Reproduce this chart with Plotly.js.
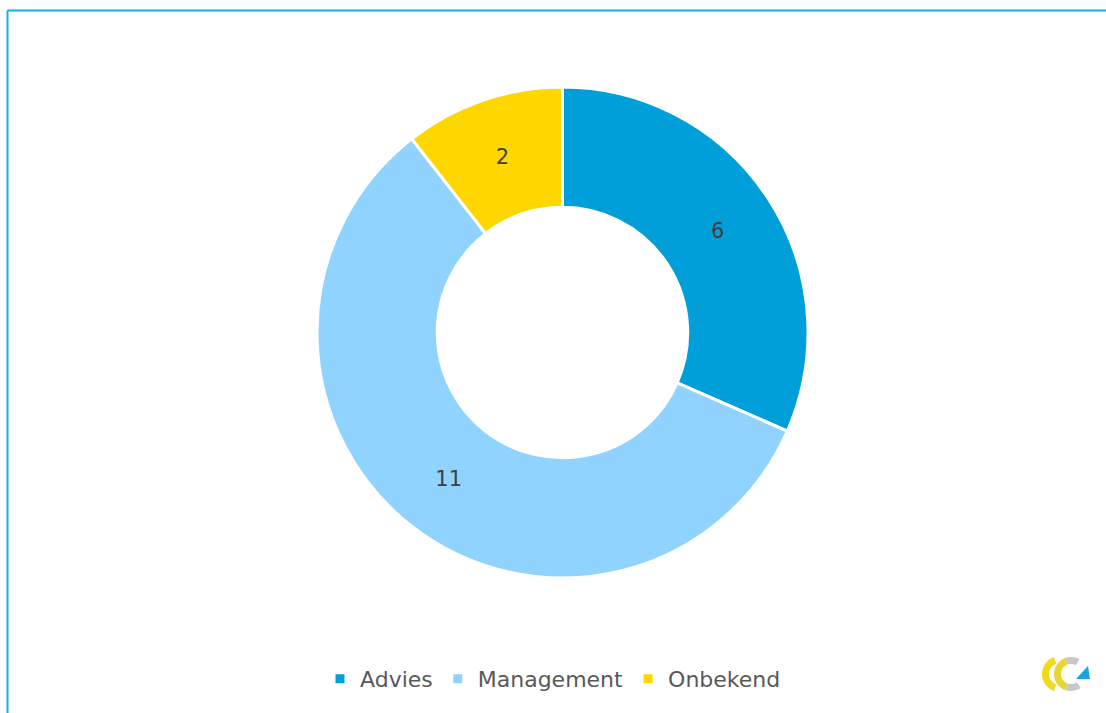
<!DOCTYPE html>
<html>
<head>
<meta charset="utf-8">
<script src="https://cdn.plot.ly/plotly-3.0.1.min.js"></script>
<style>html,body{margin:0;padding:0;background:#fff;}#chart{width:1106px;height:713px;}</style>
</head>
<body>
<div id="chart"></div>
<script>
const categories = ["Advies", "Management", "Onbekend"];
const values = [6, 11, 2];
const colors = ["#009FDA", "#8FD3FE", "#FFD700"];

const W = 1106, H = 713;
const px = x => x / W;
const py = y => 1 - y / H;
function path(pts) {
  return pts.map((p, i) => (i ? 'L' : 'M') + px(p[0]).toFixed(5) + ',' + py(p[1]).toFixed(5)).join(' ') + ' Z';
}
function arcBand(cx, cy, r1, r2, a0, a1, n) {
  const pts = [];
  for (let i = 0; i <= n; i++) { const a = (a0 + (a1 - a0) * i / n) * Math.PI / 180; pts.push([cx + r2 * Math.cos(a), cy + r2 * Math.sin(a)]); }
  for (let i = n; i >= 0; i--) { const a = (a0 + (a1 - a0) * i / n) * Math.PI / 180; pts.push([cx + r1 * Math.cos(a), cy + r1 * Math.sin(a)]); }
  return pts;
}

const trace = {
  type: 'pie',
  labels: categories,
  values: values,
  hole: 0.51,
  sort: false,
  direction: 'clockwise',
  rotation: 0,
  marker: { colors: colors, line: { color: '#ffffff', width: 3 } },
  textinfo: 'value',
  textposition: 'inside',
  insidetextorientation: 'horizontal',
  textfont: { family: 'DejaVu Sans, sans-serif', size: 21, color: '#404040' },
  domain: { x: [317 / W, 808 / W], y: [py(578), py(87)] },
  hoverinfo: 'label+value'
};

const shapes = [
  { type: 'line', xref: 'paper', yref: 'paper', x0: px(7.5), x1: px(1110), y0: py(10.5), y1: py(10.5), line: { color: '#16ACE4', width: 2 } },
  { type: 'line', xref: 'paper', yref: 'paper', x0: px(7.5), x1: px(7.5), y0: py(10.5), y1: py(720), line: { color: '#16ACE4', width: 2 } },
  // logo
  { type: 'path', xref: 'paper', yref: 'paper', path: path(arcBand(1060, 674, 11, 18, 110, 250, 28)), fillcolor: '#F2D91A', line: { width: 0 } },
  { type: 'path', xref: 'paper', yref: 'paper', path: path(arcBand(1071, 674, 10, 17, 110, 250, 28)), fillcolor: '#E9D432', line: { width: 0 } },
  { type: 'path', xref: 'paper', yref: 'paper', path: path(arcBand(1071, 674, 10, 17, 250, 300, 10)), fillcolor: '#C8C8C8', line: { width: 0 } },
  { type: 'path', xref: 'paper', yref: 'paper', path: path(arcBand(1071, 674, 10, 17, 55, 110, 10)), fillcolor: '#C8C8C8', line: { width: 0 } },
  { type: 'path', xref: 'paper', yref: 'paper', path: path([[1076, 679], [1090, 679], [1088, 666]]), fillcolor: '#1AA3E3', line: { width: 0 } }
];

const layout = {
  width: W, height: H,
  margin: { l: 0, r: 0, t: 0, b: 0 },
  paper_bgcolor: '#ffffff',
  showlegend: true,
  uniformtext: { minsize: 21, mode: 'show' },
  legend: {
    orientation: 'h', x: 0.5, xanchor: 'center', y: py(679), yanchor: 'middle',
    font: { family: 'DejaVu Sans, sans-serif', size: 22, color: '#595959' },
    itemwidth: 30, traceorder: 'normal'
  },
  shapes: shapes
};

Plotly.newPlot('chart', [trace], layout, { displayModeBar: false, staticPlot: true });
</script>
</body>
</html>
